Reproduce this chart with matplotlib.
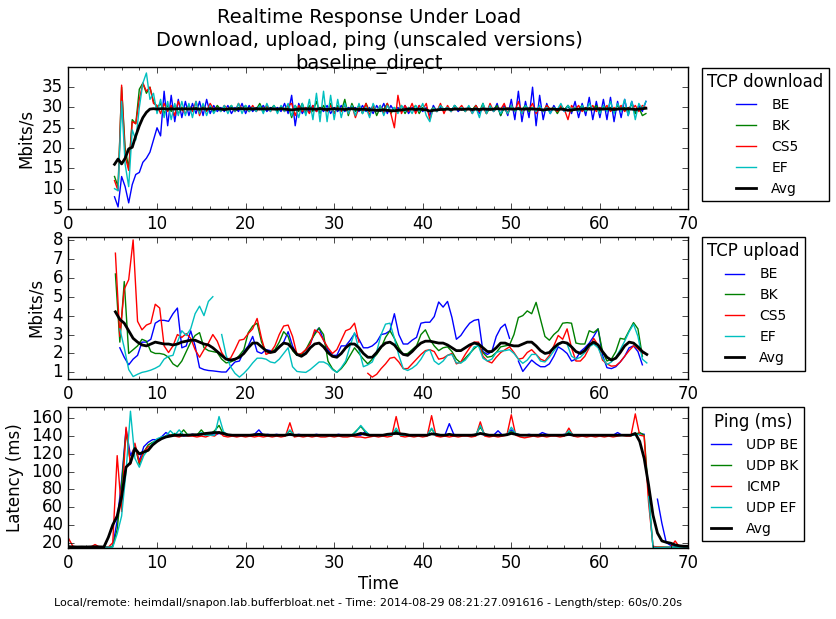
import numpy as np
import matplotlib
matplotlib.use('Agg')
import matplotlib.pyplot as plt
from matplotlib.ticker import MultipleLocator

plt.style.use('classic')

nan = np.nan

# ── sample times (0.4 s download, 0.5 s upload / ping) ─────────────────────
t_dl = 5.2 + 0.4 * np.arange(151)
t_ul = 5.3 + 0.5 * np.arange(121)
t_ping = 0.5 * np.arange(141)

# ── TCP download (Mbits/s) ──────────────────────────────────────────────────
dl_be = [
    8.0, 5.5, 13.0, 10.5, 6.5, 11.0, 13.5, 14.0, 16.5, 17.5,
    19.0, 22.0, 25.0, 23.0, 34.0, 25.5, 33.0, 26.5, 32.0, 27.5,
    31.5, 28.0, 31.0, 28.5, 31.5, 28.0, 32.0, 28.5, 30.5, 29.0,
    30.0, 29.0, 30.5, 28.5, 30.0, 29.0, 31.0, 28.5, 30.5, 29.0,
    30.0, 29.5, 30.5, 29.0, 30.0, 29.5, 30.0, 29.0, 31.0, 28.5,
    33.0, 25.5, 31.0, 28.5, 30.0, 29.0, 30.5, 29.0, 30.0, 29.0,
    30.5, 28.5, 30.0, 29.0, 30.5, 29.0, 30.0, 29.5, 30.0, 29.0,
    30.5, 29.0, 30.0, 28.5, 30.5, 29.0, 31.0, 28.5, 30.5, 29.0,
    30.0, 29.0, 30.5, 28.5, 30.0, 29.0, 30.5, 29.0, 30.0, 28.0,
    30.5, 29.0, 30.0, 29.5, 30.0, 29.0, 30.5, 29.0, 30.0, 29.5,
    30.0, 29.0, 30.5, 28.5, 30.0, 29.0, 30.5, 29.0, 31.0, 28.0,
    30.5, 28.0, 32.0, 27.0, 34.0, 26.5, 31.5, 27.5, 35.0, 25.5,
    33.0, 27.0, 31.0, 28.5, 30.5, 29.0, 30.0, 29.0, 30.5, 28.5,
    31.5, 27.5, 31.0, 28.0, 32.5, 27.0, 31.5, 27.5, 32.0, 27.0,
    32.5, 26.5, 31.5, 27.5, 32.0, 28.0, 31.5, 28.5, 30.5, 29.0,
    31.5]
dl_bk = [
    13.0, 10.5, 35.0, 20.0, 15.0, 27.0, 26.0, 34.5, 36.0, 33.5,
    35.0, 31.5, 30.0, 31.0, 28.5, 30.5, 29.0, 30.5, 28.5, 30.0,
    29.5, 30.5, 29.0, 30.0, 29.0, 30.5, 29.5, 30.0, 29.0, 30.5,
    29.5, 30.0, 29.5, 30.5, 29.0, 30.0, 29.5, 30.5, 29.0, 30.0,
    29.5, 31.0, 29.0, 30.0, 29.5, 30.5, 29.0, 30.0, 29.5, 30.5,
    27.5, 30.5, 29.0, 31.0, 28.5, 30.5, 29.0, 31.5, 28.5, 30.5,
    29.0, 31.0, 28.5, 30.5, 29.0, 32.0, 28.0, 31.0, 29.0, 30.5,
    28.5, 31.0, 29.0, 30.5, 28.0, 30.0, 29.5, 31.0, 28.5, 30.0,
    29.0, 30.5, 28.5, 30.0, 29.5, 30.5, 28.5, 30.0, 29.5, 29.0,
    30.0, 29.0, 30.5, 29.5, 30.0, 29.0, 30.5, 29.5, 30.0, 29.0,
    30.0, 29.5, 30.5, 29.0, 31.0, 28.5, 30.0, 29.5, 30.5, 28.0,
    30.0, 28.5, 30.5, 29.0, 30.0, 29.5, 30.5, 29.0, 30.0, 29.5,
    30.0, 29.0, 30.5, 29.5, 30.0, 28.5, 30.0, 29.5, 30.5, 29.0,
    30.0, 29.5, 30.5, 29.0, 30.0, 29.5, 30.5, 29.0, 30.0, 29.5,
    30.0, 29.0, 30.5, 29.5, 30.0, 29.0, 31.0, 28.5, 30.0, 28.0,
    28.5]
dl_cs5 = [
    12.0, 9.5, 35.5, 18.0, 14.5, 26.5, 26.0, 32.0, 36.0, 34.0,
    35.0, 31.0, 30.5, 28.5, 31.0, 29.0, 30.5, 28.0, 31.5, 29.5,
    28.5, 30.5, 29.0, 31.5, 28.0, 30.5, 29.0, 31.0, 29.5, 30.0,
    29.0, 30.5, 29.5, 30.0, 29.0, 31.0, 29.5, 30.0, 29.0, 30.5,
    29.0, 30.0, 29.5, 30.5, 29.0, 30.0, 29.5, 30.0, 29.0, 30.5,
    31.0, 28.0, 30.5, 29.0, 30.0, 28.5, 30.5, 29.0, 30.0, 29.5,
    29.0, 30.5, 28.5, 30.0, 29.0, 30.5, 28.5, 30.5, 27.5, 30.0,
    29.0, 31.0, 28.0, 30.5, 29.0, 30.5, 28.5, 31.0, 28.5, 25.0,
    33.0, 28.5, 30.5, 29.0, 31.0, 28.5, 30.5, 29.5, 31.0, 27.0,
    30.0, 29.0, 31.0, 28.5, 30.5, 29.0, 30.0, 29.5, 30.5, 29.0,
    30.0, 28.5, 30.5, 29.0, 30.0, 28.5, 31.0, 29.0, 30.0, 29.5,
    31.0, 28.5, 30.5, 29.0, 31.5, 28.5, 30.0, 29.5, 31.0, 28.5,
    30.0, 29.0, 30.5, 29.5, 30.0, 29.0, 30.5, 29.5, 27.0, 30.5,
    29.5, 30.5, 29.0, 30.0, 29.5, 30.5, 29.0, 30.0, 29.5, 30.5,
    29.0, 30.0, 29.5, 30.5, 29.0, 30.0, 29.5, 30.5, 29.0, 30.5,
    30.0]
dl_ef = [
    10.0, 9.5, 31.5, 16.0, 10.5, 24.5, 22.0, 30.0, 36.0, 38.5,
    32.0, 33.5, 28.5, 32.0, 27.5, 31.5, 27.0, 31.0, 28.0, 31.5,
    28.0, 31.0, 27.5, 31.5, 28.5, 31.0, 28.0, 30.5, 28.5, 30.0,
    29.0, 30.5, 28.5, 30.5, 29.0, 31.0, 28.5, 30.5, 29.0, 30.0,
    29.0, 30.5, 28.5, 31.0, 29.0, 30.5, 28.5, 30.5, 29.0, 31.0,
    28.0, 30.5, 27.5, 31.0, 28.0, 32.0, 27.0, 33.5, 26.5, 34.0,
    26.5, 33.0, 27.0, 32.0, 27.5, 31.0, 28.5, 30.5, 28.0, 31.0,
    28.5, 30.0, 27.5, 31.0, 29.0, 30.5, 28.0, 30.5, 29.0, 30.0,
    28.5, 30.5, 29.0, 30.0, 28.5, 30.5, 29.0, 31.0, 28.0, 26.5,
    30.0, 29.0, 30.5, 29.5, 30.0, 29.0, 30.5, 29.5, 30.0, 29.0,
    30.5, 28.5, 30.0, 27.5, 31.0, 28.5, 30.5, 29.0, 30.0, 28.5,
    30.0, 28.5, 30.5, 29.0, 30.0, 28.5, 30.5, 29.5, 30.0, 29.0,
    30.5, 29.0, 30.0, 28.5, 30.0, 29.5, 31.0, 29.0, 30.5, 29.5,
    30.0, 29.0, 30.5, 29.0, 31.0, 29.5, 30.0, 28.5, 30.5, 29.0,
    31.5, 28.5, 31.0, 29.0, 32.0, 28.0, 31.5, 27.0, 31.0, 29.5,
    31.5]
dl_avg = [
    16.0, 17.3, 16.1, 17.5, 19.8, 20.2, 23.0, 25.5, 27.5, 28.8,
    29.6, 29.7, 29.6, 29.7, 29.7, 29.6, 29.7, 29.6, 29.7, 29.6,
    29.7, 29.6, 29.7, 29.7, 29.6, 29.7, 29.6, 29.7, 29.6, 29.7,
    29.6, 29.5, 29.6, 29.7, 29.6, 29.7, 29.7, 29.6, 29.7, 29.6,
    29.7, 29.6, 29.7, 29.6, 29.7, 29.6, 29.6, 29.7, 29.6, 29.5,
    29.4, 29.5, 29.6, 29.7, 29.6, 29.7, 29.6, 29.6, 29.7, 29.6,
    29.5, 29.6, 29.7, 29.6, 29.6, 29.5, 29.6, 29.7, 29.6, 29.5,
    29.6, 29.5, 29.4, 29.4, 29.3, 29.3, 29.4, 29.3, 29.2, 29.2,
    29.3, 29.4, 29.5, 29.6, 29.6, 29.5, 29.6, 29.5, 29.4, 29.1,
    29.3, 29.4, 29.5, 29.5, 29.6, 29.5, 29.6, 29.6, 29.5, 29.6,
    29.6, 29.5, 29.6, 29.5, 29.6, 29.6, 29.5, 29.6, 29.7, 29.6,
    29.6, 29.7, 29.6, 29.6, 29.7, 29.6, 29.6, 29.7, 29.6, 29.6,
    29.5, 29.4, 29.5, 29.6, 29.6, 29.5, 29.6, 29.5, 29.3, 29.4,
    29.5, 29.6, 29.6, 29.7, 29.6, 29.6, 29.7, 29.6, 29.6, 29.7,
    29.6, 29.5, 29.6, 29.7, 29.6, 29.7, 29.6, 29.5, 29.6, 29.7,
    29.8]

# ── TCP upload (Mbits/s) ────────────────────────────────────────────────────
ul_be = [
    nan, 2.3, 1.8, 1.4, 1.7, 1.9, 2.6, 2.6, 2.75, 3.6,
    3.75, 3.75, 3.7, 4.1, 4.4, 2.3, 2.4, 3.2, 2.4, 1.25,
    1.15, 1.1, 1.08, 1.05, 1.02, 1.02, 1.3, 1.55, 1.6, 2.1,
    2.4, 2.9, 2.1, 2.0, 2.2, 2.15, 2.15, 2.3, 2.6, 3.15,
    2.4, 1.9, 1.9, 2.2, 2.5, 3.1, 3.35, 2.7, 2.2, 1.9,
    1.9, 2.4, 2.4, 2.7, 3.05, 2.75, 2.3, 2.3, 2.4, 2.6,
    3.0, 3.05, 3.2, 4.1, 3.0, 2.5, 2.5, 2.7, 2.85, 3.6,
    3.65, 3.65, 3.95, 4.72, 4.45, 4.75, 3.9, 2.75, 2.95, 3.3,
    3.6, 3.75, 3.8, 2.1, 1.95, 2.1, 2.9, 3.35, 3.55, 2.8,
    nan, 1.6, 1.05, 1.35, 1.65, 1.45, 1.3, 1.3, 1.45, 1.85,
    2.35, 2.2, 2.0, 1.6, 1.7, 2.1, 2.3, 2.55, 2.9, 3.3,
    1.9, 1.25, 1.2, 1.3, 1.55, 1.85, 2.3, 2.4, 2.1, 1.4,
    nan]
ul_bk = [
    6.2, 2.6, 5.8, 2.0, 2.2, 2.4, 2.75, 2.65, 2.1, 2.0,
    2.0, 1.95, 1.8, 1.45, 1.3, 1.6, 2.1, 2.6, 2.95, 3.1,
    2.3, 2.15, 2.1, 2.05, 1.7, 1.5, 1.55, 1.65, 1.9, 2.2,
    3.1, 3.45, 3.6, 2.6, 2.1, 2.1, 2.2, 2.6, 3.15, 2.9,
    2.15, 1.9, 1.95, 2.2, 2.65, 3.0, 3.35, 3.0, 1.6, 1.2,
    1.0, 1.2, 1.5, 1.9, 2.3, 2.0, 1.7, 1.45, 1.7, 1.95,
    2.3, 2.85, 3.2, 2.8, 2.3, 1.95, 2.0, 2.2, 2.4, 3.0,
    3.25, 2.75, 2.4, 2.15, 2.3, 2.35, 2.1, 1.7, 1.5, 1.75,
    2.0, 2.25, 2.45, 2.05, 1.8, 1.85, 2.05, 2.35, 2.4, 2.45,
    3.0, 3.9, 4.0, 4.25, 4.1, 4.7, 3.8, 2.9, 2.7, 3.0,
    3.2, 3.6, 3.63, 3.6, 2.55, 2.5, 2.5, 3.2, 3.1, 3.3,
    2.1, 1.6, 1.7, 2.1, 2.8, 2.75, 3.2, 3.63, 3.3, 1.85,
    nan]
ul_cs5 = [
    7.3, 2.9, 5.4, 5.9, 8.0, 3.7, 3.25, 3.5, 3.6, 4.6,
    4.4, 2.4, 2.05, 2.4, 3.0, 2.85, 3.05, 2.8, 2.2, 1.8,
    2.2, 2.55, 3.0, 2.65, 2.05, 1.7, 1.75, 2.2, 2.7, 2.75,
    3.05, 3.3, 3.85, 2.8, 1.95, 2.05, 2.4, 3.0, 3.45, 3.5,
    2.9, 1.95, 2.0, 2.2, 2.5, 3.25, 3.1, 2.7, 2.3, 2.0,
    2.2, 2.7, 3.2, 3.3, 3.6, 2.6, nan, 0.95, 0.75, 0.9,
    1.2, 1.45, 1.75, 1.8, 1.55, 1.2, 1.2, 1.45, 1.7, 1.95,
    2.15, 2.2, 2.1, 1.7, 1.75, 1.9, 2.0, 1.45, 1.55, 1.95,
    2.3, 2.6, 2.6, 1.85, 1.6, 1.5, 1.8, 2.05, 2.2, 2.35,
    2.05, 1.7, 1.75, 2.05, 2.2, 1.95, 1.7, 1.6, 1.9, 2.4,
    2.95, 2.75, 3.3, 2.3, 1.6, 1.6, 1.85, 2.3, 2.8, 2.45,
    1.65, 1.45, 1.33, 1.35, 1.55, 1.85, 2.15, 2.4, 2.25, 2.0,
    nan]
ul_ef = [
    nan, 3.3, 2.3, 1.15, 0.78, 0.9, 1.0, 1.05, 1.12, 1.22,
    1.35, 1.7, 1.85, 1.9, 2.6, 3.2, 2.95, 3.3, 4.1, 4.5,
    4.0, 4.75, 5.0, nan, 3.0, 1.9, 1.3, 0.95, 0.75, 0.95,
    1.2, 1.5, 1.75, 1.75, 1.7, 1.55, 1.5, 1.7, 2.0, 2.3,
    1.3, 1.05, 1.02, 1.0, 1.15, 1.35, 1.55, 1.55, 1.43, 1.15,
    1.0, 1.25, 1.6, 2.4, 3.1, 2.2, 1.3, 1.4, 1.55, 2.1,
    3.0, 3.55, 3.6, 2.8, 1.9, 1.2, 1.1, 1.22, 1.4, 1.7,
    2.1, 2.2, 1.6, 1.42, 1.6, 1.9, 1.95, 1.5, 1.5, 1.65,
    1.95, 2.35, 2.4, 1.75, 1.6, 1.7, 2.05, 2.13, 2.15, 2.2,
    2.0, 1.7, 1.48, 1.65, 1.95, 1.95, 1.6, 1.55, 1.8, 2.13,
    2.45, 2.6, 2.5, 1.86, 1.7, 1.8, 2.05, 2.35, 2.5, 2.3,
    1.75, 1.42, 1.55, 1.8, 2.2, 2.65, 3.15, 3.55, 2.9, 1.7,
    1.5]
ul_avg = [
    4.2, 3.8, 3.6, 3.2, 2.8, 2.6, 2.45, 2.4, 2.5, 2.6,
    2.55, 2.5, 2.5, 2.45, 2.5, 2.6, 2.65, 2.7, 2.7, 2.6,
    2.5, 2.45, 2.3, 2.1, 1.9, 1.7, 1.65, 1.7, 1.8, 2.0,
    2.3, 2.55, 2.55, 2.35, 2.15, 2.05, 2.1, 2.35, 2.55, 2.5,
    2.25, 1.95, 1.85, 2.0, 2.3, 2.5, 2.55, 2.35, 2.05, 1.85,
    1.8, 2.0, 2.3, 2.5, 2.5, 2.3, 2.0, 1.8, 1.8, 2.05,
    2.35, 2.55, 2.6, 2.45, 2.15, 1.95, 1.9, 2.1, 2.35, 2.55,
    2.65, 2.65, 2.6, 2.55, 2.55, 2.45, 2.3, 2.15, 2.15, 2.3,
    2.45, 2.55, 2.5, 2.3, 2.1, 2.1, 2.3, 2.55, 2.55, 2.45,
    2.4, 2.4, 2.5, 2.6, 2.6, 2.4, 2.15, 2.0, 2.05, 2.3,
    2.5, 2.6, 2.55, 2.35, 2.1, 2.0, 2.15, 2.45, 2.6, 2.45,
    2.1, 1.8, 1.65, 1.75, 2.05, 2.4, 2.6, 2.55, 2.35, 2.1,
    1.95]

# ── Ping (ms) ───────────────────────────────────────────────────────────────
ping_be = [
    15, 15, 15, 15.5, 15, 15, 15, 15.5, 15, 15,
    16, 45, 90, 148, 118, 128, 112, 128, 133, 136,
    136, 139, 144, 141, 141, 142, 140, 141, 142, 141,
    143, 141, 142, 141, 143, 142, 141, 141, 140, 141,
    141, 141, 142, 147, 141, 142, 141, 142, 141, 141,
    141, 141, 142, 141, 141, 141, 142, 141, 141, 141,
    141, 142, 141, 141, 141, 141, 141, 145, 141, 141,
    141, 141, 141, 141, 146, 141, 141, 141, 141, 141,
    141, 141, 143, 141, 141, 141, 154, 142, 141, 141,
    141, 141, 142, 143, 141, 141, 141, 146, 141, 142,
    147, 143, 141, 141, 142, 141, 141, 144, 142, 141,
    141, 141, 142, 141, 141, 141, 141, 141, 141, 141,
    141, 141, 141, 141, 144, 141, 141, 141, 142, 143,
    142, nan, nan, 69, 42, 20, 17, 16, 16, 16,
    16]
ping_bk = [
    15, 15, 15.5, 15, 15, 15, 15.5, 15, 15, 15,
    16, 35, 85, 145, 110, 130, 108, 122, 130, 133,
    135, 138, 140, 141, 143, 141, 147, 141, 141, 141,
    147, 141, 142, 146, 152, 142, 141, 141, 141, 141,
    141, 141, 142, 141, 141, 141, 141, 141, 141, 141,
    146, 141, 141, 141, 141, 141, 141, 141, 141, 141,
    141, 141, 141, 141, 141, 146, 151, 145, 141, 141,
    141, 141, 141, 141, 146, 141, 141, 141, 141, 141,
    141, 141, 148, 141, 141, 141, 142, 141, 141, 141,
    141, 141, 142, 150, 142, 141, 141, 141, 141, 142,
    145, 142, 141, 141, 141, 141, 141, 141, 141, 141,
    141, 141, 141, 144, 141, 141, 141, 141, 141, 141,
    141, 141, 141, 141, 141, 141, 141, 141, 142, 144,
    141, 75, 15, 15, 15, 15, 15, 15, 15, 15,
    15]
ping_icmp = [
    25, 16, 15, 15, 15.5, 15, 18, 15, 15, 15,
    20, 118, 55, 150, 108, 132, 110, 122, 128, 130,
    134, 137, 140, 141, 140, 139, 141, 140, 140, 139,
    140, 139, 141, 140, 145, 140, 139, 140, 139, 140,
    139, 140, 139, 140, 139, 140, 139, 140, 139, 140,
    155, 139, 140, 139, 140, 139, 140, 139, 139, 140,
    139, 140, 139, 139, 140, 139, 139, 138, 139, 140,
    139, 140, 139, 140, 162, 140, 139, 140, 139, 140,
    139, 140, 163, 140, 139, 140, 139, 140, 139, 140,
    140, 139, 140, 156, 140, 139, 140, 139, 140, 141,
    164, 141, 139, 138, 139, 140, 139, 140, 139, 140,
    140, 139, 140, 149, 140, 139, 140, 139, 140, 139,
    140, 139, 140, 139, 140, 141, 140, 140, 165, 141,
    140, 65, 16, 15, 15, 15, 15, 22, 15, 15,
    15]
ping_ef = [
    15, 14.5, 15, 15, 14.5, 15, 15, 14.5, 15, 15,
    15, 30, 50, 100, 168, 115, 105, 118, 125, 132,
    137, 139, 140, 146, 141, 147, 141, 142, 141, 141,
    144, 141, 141, 141, 162, 145, 141, 141, 141, 141,
    141, 141, 141, 141, 141, 141, 141, 141, 141, 141,
    147, 141, 141, 141, 141, 141, 141, 141, 141, 141,
    141, 141, 141, 141, 141, 145, 152, 146, 141, 141,
    141, 141, 141, 141, 149, 141, 141, 141, 141, 141,
    141, 141, 149, 141, 141, 141, 142, 141, 141, 141,
    141, 141, 141, 152, 141, 141, 141, 141, 141, 141,
    150, 143, 141, 141, 141, 141, 141, 141, 141, 141,
    141, 141, 141, 146, 141, 141, 141, 141, 141, 141,
    141, 141, 141, 141, 141, 141, 141, 141, 141, 142,
    nan, 72, 15, 14.5, 14.5, 15, 15, 15, 15, 15,
    15]
ping_avg = [
    15.5, 15.3, 15.2, 15.3, 15.2, 15.4, 15.5, 15.3, 15.2, 26,
    40, 50, 72, 105, 110, 126, 120, 122, 124, 130,
    134, 137, 139, 140, 141, 141, 141, 141, 141.5, 141.5,
    142, 143, 143.5, 144, 144, 143, 141.5, 141, 141, 141,
    141, 141, 141.5, 142, 141.5, 141, 141, 141, 141, 141,
    142, 141, 141, 141, 141, 141, 141, 141, 141, 141,
    141, 141, 141, 141, 141, 141.5, 143, 142, 141, 141,
    141, 141, 142, 142.5, 143, 142.5, 142, 141, 141, 141,
    141, 141, 142.5, 142, 141, 141, 142, 141, 141, 141,
    141, 141, 141.5, 143, 142, 141, 141, 141, 141, 141.5,
    143, 142, 141, 141, 141, 141, 141, 141, 141, 141,
    141, 141, 141, 142, 141, 141, 141, 141, 141, 141,
    141, 141, 141, 141, 141, 141, 141, 141, 143, 134,
    115, 85, 51, 31, 22, 20.5, 19.5, 17.5, 16.5, 16,
    16]

TITLE = ('Realtime Response Under Load\n'
         'Download, upload, ping (unscaled versions)\n'
         'baseline_direct')
FOOTER = ('Local/remote: heimdall/snapon.lab.bufferbloat.net - '
          'Time: 2014-08-29 08:21:27.091616 - Length/step: 60s/0.20s')

panels = [
    dict(t=t_dl, ys=[dl_be, dl_bk, dl_cs5, dl_ef], avg=dl_avg,
         labels=['BE', 'BK', 'CS5', 'EF'], title='TCP download',
         ylabel='Mbits/s', ylim=(5, 39.9), ystep=5,
         rect=[0.0818, 0.6624, 0.7407, 0.2289], leg_y=1 - 67.5 / 619),
    dict(t=t_ul, ys=[ul_be, ul_bk, ul_cs5, ul_ef], avg=ul_avg,
         labels=['BE', 'BK', 'CS5', 'EF'], title='TCP upload',
         ylabel='Mbits/s', ylim=(0.65, 8.17), ystep=1,
         rect=[0.0818, 0.3877, 0.7407, 0.2299], leg_y=1 - 236.9 / 619),
    dict(t=t_ping, ys=[ping_be, ping_bk, ping_icmp, ping_ef], avg=ping_avg,
         labels=['UDP BE', 'UDP BK', 'ICMP', 'UDP EF'], title='Ping (ms)',
         ylabel='Latency (ms)', ylim=(13.7, 172.4), ystep=20,
         rect=[0.0818, 0.1142, 0.7407, 0.2278], leg_y=1 - 407.3 / 619),
]
colors = ['b', 'g', 'r', 'c']

fig = plt.figure(figsize=(8.37, 6.19), dpi=100)

for i, p in enumerate(panels):
    ax = fig.add_axes(p['rect'])
    for y, lab, col in zip(p['ys'], p['labels'], colors):
        ax.plot(p['t'], y, color=col, lw=1.0, label=lab)
    ax.plot(p['t'], p['avg'], color='k', lw=2.0, label='Avg')
    ax.set_xlim(0, 70)
    ax.set_ylim(*p['ylim'])
    ax.xaxis.set_major_locator(MultipleLocator(10))
    ax.xaxis.set_minor_locator(MultipleLocator(2))
    ax.yaxis.set_major_locator(MultipleLocator(p['ystep']))
    ax.set_ylabel(p['ylabel'], fontsize=12)
    if i == 2:
        ax.set_xlabel('Time', fontsize=12, labelpad=2)
    ax.legend(title=p['title'], loc='upper left',
              bbox_to_anchor=(701.7 / 837, p['leg_y']),
              bbox_transform=fig.transFigure, borderaxespad=0,
              fontsize=10, title_fontsize=12, labelspacing=0.5,
              handlelength=2.0, fancybox=False)

fig.text(369 / 837, 1 - 8 / 619, TITLE, ha='center', va='top', fontsize=14,
         linespacing=1.25)
fig.text(368.5 / 837, 1 - 603 / 619, FOOTER, ha='center', va='center',
         fontsize=8)

fig.savefig('out.png', dpi=100, facecolor='white')
